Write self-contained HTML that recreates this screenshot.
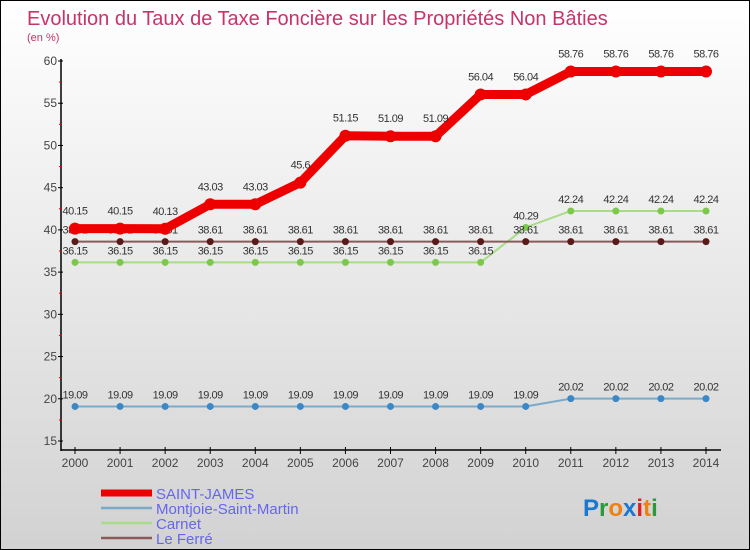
<!DOCTYPE html>
<html><head><meta charset="utf-8"><style>
html,body{margin:0;padding:0}
body{width:750px;height:550px;overflow:hidden;font-family:"Liberation Sans",sans-serif}
#wrap{position:relative;width:748px;height:548px;border:1px solid #000;background:linear-gradient(#ffffff,#d2d2d2)}
</style></head><body>
<div id="wrap">
<svg id="chart" width="748" height="548" style="position:absolute;left:0;top:0"></svg>
</div>
<script>
const years=[2000,2001,2002,2003,2004,2005,2006,2007,2008,2009,2010,2011,2012,2013,2014];
const saintJames=[40.15,40.15,40.13,43.03,43.03,45.6,51.15,51.09,51.09,56.04,56.04,58.76,58.76,58.76,58.76];
const montjoie=[19.09,19.09,19.09,19.09,19.09,19.09,19.09,19.09,19.09,19.09,19.09,20.02,20.02,20.02,20.02];
const carnet=[36.15,36.15,36.15,36.15,36.15,36.15,36.15,36.15,36.15,36.15,40.29,42.24,42.24,42.24,42.24];
const leFerre=[38.61,38.61,38.61,38.61,38.61,38.61,38.61,38.61,38.61,38.61,38.61,38.61,38.61,38.61,38.61];
const yTicks=[15,20,25,30,35,40,45,50,55,60];
const seriesNames=["SAINT-JAMES","Montjoie-Saint-Martin","Carnet","Le Ferré"];

const NS="http://www.w3.org/2000/svg";
const svg=document.getElementById('chart');
function el(t,a,p){const e=document.createElementNS(NS,t);for(const k in a)e.setAttribute(k,a[k]);(p||svg).appendChild(e);return e;}
function xs(i){return 74+i*(705-74)/(years.length-1);}
function ys(v){return 440-(v-15)*(440-60)/45;}

let t=el('text',{x:26,y:24,'font-size':20,fill:'#c8336a'});t.textContent="Evolution du Taux de Taxe Foncière sur les Propriétés Non Bâties";

t=el('text',{x:26,y:40,'font-size':11,fill:'#c8336a'});t.textContent="(en %)";


let ax=el('line',{x1:60,y1:58,x2:60,y2:450,stroke:'#000','stroke-width':1.5});

ax=el('line',{x1:60,y1:449,x2:720,y2:449,stroke:'#000','stroke-width':1.5});

yTicks.forEach((v,i)=>{
  el('line',{x1:57,y1:ys(v),x2:62,y2:ys(v),stroke:'#000'});
  if(i<yTicks.length-1) el('line',{x1:58,y1:ys(v+2.5),x2:61,y2:ys(v+2.5),stroke:'#e00'});
  const l=el('text',{x:56,y:ys(v)+4,'font-size':12,fill:'#444','text-anchor':'end'});l.textContent=v;
  
});
years.forEach((y,i)=>{
  el('line',{x1:xs(i),y1:446,x2:xs(i),y2:453,stroke:'#000'});
  const l=el('text',{x:xs(i),y:466,'font-size':12,fill:'#444','text-anchor':'middle'});l.textContent=y;
  
});

function series(data,color,w,r,dot,name,labelDy){
  const g=el('g',{});
  el('polyline',{points:data.map((v,i)=>xs(i)+','+ys(v)).join(' '),fill:'none',stroke:color,'stroke-width':w,'stroke-linejoin':'round'},g);
  data.forEach((v,i)=>{
    const c=el('circle',{cx:xs(i),cy:ys(v),r:r,fill:dot},g);
    
    const l=el('text',{x:xs(i),y:ys(v)+labelDy,'font-size':11,fill:'#333','text-anchor':'middle','letter-spacing':'-0.5'},g);
    l.textContent=String(v);
    
  });
}
series(carnet,'#a8dc88',2,3.5,'#7cc84a','series-carnet',-8);
series(leFerre,'#8a5a5a',2,3.5,'#5a1a1a','series-le-ferre',-8);
series(montjoie,'#7aaac8',2,3.5,'#3a88c8','series-montjoie',-8);
series(saintJames,'#ee0000',9,6,'#ee0000','series-saint-james',-14);

const legColors=['#ee0000','#7aaac8','#a8dc88','#8a5a5a'];
seriesNames.forEach((n,i)=>{
  const y=492+i*15;
  const g=el('g',{});
  el('line',{x1:100,y1:y,x2:151,y2:y,stroke:legColors[i],'stroke-width':i==0?7:2.5},g);
  const l=el('text',{x:155,y:y+6,'font-size':15,fill:'#6666ee'},g);l.textContent=n;
});
const lg=el('text',{x:582,y:515,'font-size':24,'font-weight':'bold'});

[['P','#1a78d0'],['r','#2a9a3a'],['o','#f08010'],['x','#1a78d0'],['i','#e02020'],['t','#f08010'],['i','#2a9a3a']].forEach(([c,f])=>{const s=el('tspan',{fill:f},lg);s.textContent=c;});
</script>
</body></html>
